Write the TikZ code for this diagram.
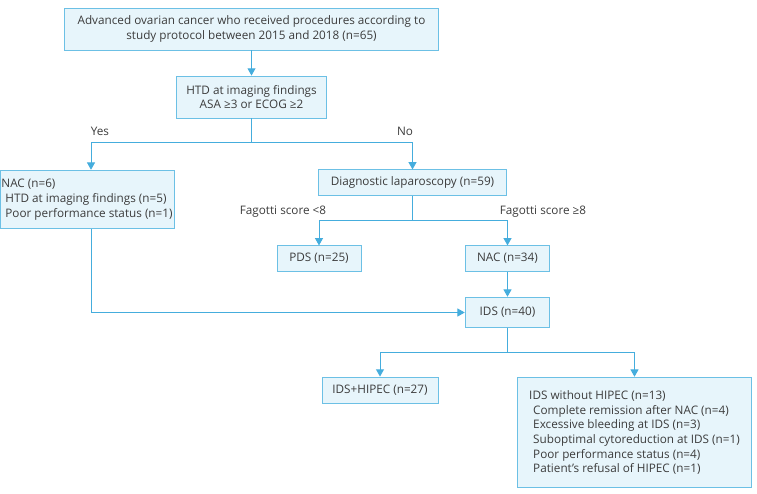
\documentclass[tikz,border=0pt]{standalone}
\usepackage{fontspec}
\setmainfont{Open Sans}
\usepackage{tikz}
\usetikzlibrary{arrows.meta}
\definecolor{boxline}{HTML}{6CC0E5}
\definecolor{boxfill}{HTML}{E7F5FB}
\definecolor{flowline}{HTML}{45ADDD}
\definecolor{txt}{HTML}{3C3C3C}
\tikzset{
	stagebox/.style={draw=boxline, fill=boxfill, line width=0.6pt, inner sep=0pt, text=txt},
	flow/.style={draw=flowline, line width=0.75pt},
	flowarrow/.style={flow, -{Triangle[width=6pt,length=5.5pt]}},
	branchlabel/.style={text=txt, inner sep=0pt}
}

\begin{document}
\begin{tikzpicture}[x=0.75pt, y=-0.75pt, font=\fontsize{8.8}{11}\selectfont]
		%%%%% START %%%%%
		\useasboundingbox (0, 0) rectangle (757, 493);
		
		\node[stagebox, minimum width=280pt, minimum height=31.5pt, align=center] (cohort) at (251.5, 29) {Advanced ovarian cancer who received procedures according to\\study protocol between 2015 and 2018 (n=65)};
		
		\node[stagebox, minimum width=113pt, minimum height=31.5pt, align=center] (htd) at (251.5, 97) {HTD at imaging findings\\ASA ≥3 or ECOG ≥2};
		
		\node[stagebox, minimum width=130.5pt, minimum height=44pt, align=left] (nacsix) at (87, 199.5) {NAC (n=6)\\\hspace{3pt}HTD at imaging findings (n=5)\\\hspace{3pt}Poor performance status (n=1)};
		\node[stagebox, minimum width=141.5pt, minimum height=19pt] (lap) at (412.5, 182.5) {Diagnostic laparoscopy (n=59)};
		
		\node[stagebox, minimum width=63pt, minimum height=19pt] (pds) at (319, 258.5) {PDS (n=25)};
		\node[stagebox, minimum width=63.5pt, minimum height=19pt] (nacthree) at (507.5, 258.5) {NAC (n=34)};
		\node[stagebox, minimum width=63.5pt, minimum height=23pt] (ids) at (507.5, 312.5) {IDS (n=40)};
		
		\node[stagebox, minimum width=87pt, minimum height=19.5pt] (hipec) at (380, 390) {IDS+HIPEC (n=27)};
		\node[stagebox, minimum width=176pt, minimum height=83pt, align=left] (nohipec) at (634.5, 432.5) {IDS without HIPEC (n=13)\\\hspace{3pt}Complete remission after NAC (n=4)\\\hspace{3pt}Excessive bleeding at IDS (n=3)\\\hspace{3pt}Suboptimal cytoreduction at IDS (n=1)\\\hspace{3pt}Poor performance status (n=4)\\\hspace{3pt}Patient’s refusal of HIPEC (n=1)};
		
		%% branch points
		\coordinate (splithtd) at (251.5, 142);
		\coordinate (splitlap) at (412.5, 220);
		\coordinate (splitids) at (507.5, 352);
		
		\draw[flowarrow] (cohort.south) -- (htd.north);
		
		\draw[flow] (htd.south) -- (splithtd);
		\draw[flowarrow] (splithtd) -| (nacsix.north -| 91, 0);
		\draw[flowarrow] (splithtd) -| (lap.north);
		\node[branchlabel] (yes) at (100, 131) {Yes};
		\node[branchlabel] (no) at (405, 131) {No};
		
		\draw[flow] (lap.south) -- (splitlap);
		\draw[flowarrow] (splitlap) -| (pds.north);
		\draw[flowarrow] (splitlap) -| (nacthree.north);
		\node[branchlabel] (lowscore) at (283, 212) {Fagotti score <8};
		\node[branchlabel] (highscore) at (543, 212) {Fagotti score ≥8};
		
		\draw[flowarrow] (nacthree.south) -- (ids.north);
		\draw[flowarrow] (nacsix.south -| 91, 0) |- (ids.west);
		
		\draw[flow] (ids.south) -- (splitids);
		\draw[flowarrow] (splitids) -| (hipec.north);
		\draw[flowarrow] (splitids) -| (nohipec.north);
		
		%%%%% END %%%%%
\end{tikzpicture}
\end{document}
